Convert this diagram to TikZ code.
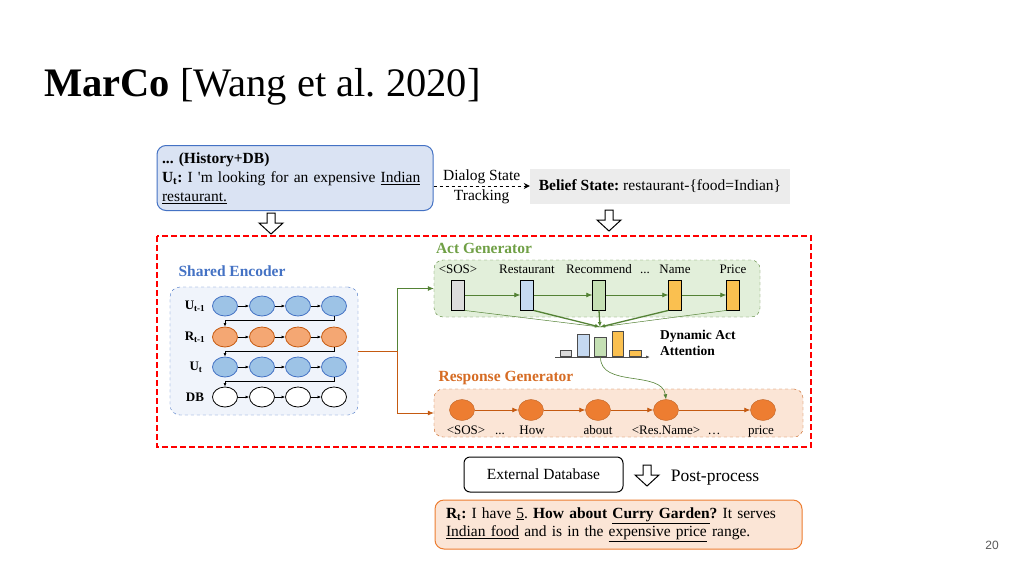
\documentclass[tikz,border=0pt]{standalone}
\usepackage{fontspec}
\setmainfont{Liberation Serif}
\newfontfamily\pagenumfont{Liberation Sans}
\usetikzlibrary{shapes.geometric,arrows.meta}
\frenchspacing

\definecolor{histfill}{RGB}{218,227,243}
\definecolor{bluedraw}{RGB}{68,114,196}
\definecolor{beliefgray}{RGB}{236,236,236}
\definecolor{encfill}{RGB}{240,244,251}
\definecolor{encblue}{RGB}{157,195,230}
\definecolor{encorange}{RGB}{244,167,115}
\definecolor{orangedraw}{RGB}{197,90,17}
\definecolor{actgreen}{RGB}{112,160,70}
\definecolor{actline}{RGB}{84,130,53}
\definecolor{actfill}{RGB}{226,239,218}
\definecolor{resfill}{RGB}{251,229,214}
\definecolor{resdot}{RGB}{237,125,49}
\definecolor{restitle}{RGB}{214,108,36}
\definecolor{rectgray}{RGB}{220,220,220}
\definecolor{rectblue}{RGB}{197,217,241}
\definecolor{rectgreen}{RGB}{197,224,180}
\definecolor{rectorange}{RGB}{250,192,80}

\tikzset{
  txt/.style={font=\fontsize{15.5}{19}\selectfont, inner sep=0pt},
  lbl/.style={font=\fontsize{13}{15}\selectfont, inner sep=0pt, anchor=base},
  rowlbl/.style={font=\bfseries\fontsize{13}{15}\selectfont, inner sep=0pt},
  secttl/.style={font=\bfseries\fontsize{15.5}{18}\selectfont, inner sep=0pt},
  histbox/.style={draw=bluedraw, fill=histfill, line width=1pt, rounded corners=9pt,
    text width=266pt, inner xsep=5pt, minimum height=65pt, align=left,
    font=\fontsize{15.5}{19}\selectfont},
  beliefbox/.style={fill=beliefgray, minimum width=260pt, minimum height=35pt,
    font=\fontsize{15.5}{19}\selectfont},
  dsarrow/.style={dashed, line width=1pt, -{Stealth[length=6pt,width=6pt]}},
  encbox/.style={draw=bluedraw, dashed, fill=encfill, rounded corners=10pt,
    minimum width=188pt, minimum height=128pt},
  encell/.style={ellipse, minimum width=25pt, minimum height=20pt, inner sep=0pt, line width=0.8pt},
  encb/.style={encell, draw=bluedraw, fill=encblue},
  enco/.style={encell, draw=orangedraw, fill=encorange},
  encw/.style={encell, draw=black, fill=white},
  encarrow/.style={line width=0.7pt, -{Latex[length=3.5pt,width=3pt]}},
  actbox/.style={draw=actline, dashed, fill=actfill, rounded corners=9pt,
    minimum width=326pt, minimum height=57pt},
  actrect/.style={draw=black, line width=0.9pt, minimum width=12.5pt, minimum height=30pt, inner sep=0pt},
  actarrow/.style={draw=actline, line width=0.8pt, -{Latex[length=6pt,width=5pt]}},
  attline/.style={draw=actline, line width=1.3pt, -{Latex[length=5pt,width=4pt]}},
  attthin/.style={draw=actline, line width=0.5pt},
  bar/.style={draw=black!70, line width=0.6pt, minimum width=11.5pt, inner sep=0pt, anchor=south},
  resbox/.style={draw=orangedraw, dashed, fill=resfill, rounded corners=9pt,
    minimum width=369pt, minimum height=48pt},
  resdotnode/.style={ellipse, fill=resdot, draw=resdot!80!black, line width=0.4pt,
    minimum width=25pt, minimum height=21pt, inner sep=0pt},
  resarrow/.style={draw=orangedraw, line width=0.8pt, -{Latex[length=6pt,width=5pt]}},
  dbbox/.style={draw=black, line width=1pt, rounded corners=6pt, fill=white,
    minimum width=159pt, minimum height=35pt, font=\fontsize{15.5}{19}\selectfont},
  outbox/.style={draw=resdot, line width=1pt, fill=resfill, rounded corners=9pt,
    text width=345pt, inner xsep=11pt, minimum height=49pt, align=left,
    font=\fontsize{15.5}{18.3}\selectfont},
  pics/hollowdown/.style={code={
    \draw[fill=white, line width=1pt, line join=miter]
      (-4,0) -- (4,0) -- (4,-10) -- (12,-10) -- (0,-21) -- (-12,-10) -- (-4,-10) -- cycle;}}
}

\begin{document}
\begin{tikzpicture}[x=1pt,y=1pt,yscale=-1]
\useasboundingbox[fill=white] (0,0) rectangle (1024,576);

% title and page number
\node[anchor=west, inner sep=0pt, font=\fontsize{40.5}{42}\selectfont] (title) at (44,87)
  {\textbf{MarCo} [Wang et al. 2020]};
\node[inner sep=0pt, font=\pagenumfont\fontsize{12}{14}\selectfont, text=black!65] (pagenum) at (992,545) {20};

% input and belief state
\node[histbox] (hist) at (295,178) {\textbf{... (History+DB)}\\
  \textbf{U\textsubscript{t}:} I \textquotesingle m looking for an expensive \underline{Indian}\\
  \underline{restaurant.}};
\node[beliefbox] (belief) at (660,186) {\textbf{Belief State:} restaurant-\{food=Indian\}};
\draw[dsarrow] (hist.east |- belief.west) -- (belief.west)
  node[midway, above=2pt, txt] {Dialog State}
  node[midway, below=3pt, txt] {Tracking};

\pic at (271,213) {hollowdown};
\pic at (609,210) {hollowdown};

% model frame
\draw[red, dashed, line width=1.6pt, dash pattern=on 6pt off 3pt] (157,236) rectangle (811,447);

% shared encoder
\node[secttl, text=bluedraw] (enctitle) at (232,271) {Shared Encoder};
\node[encbox] (enc) at (264,351) {};
\node[rowlbl] (l1) at (195,306) {U\textsubscript{t-1}};
\node[rowlbl] (l2) at (195,337) {R\textsubscript{t-1}};
\node[rowlbl] (l3) at (196,367) {U\textsubscript{t}};
\node[rowlbl] (l4) at (195,397) {DB};
\foreach \r/\y/\sty in {1/306/encb, 2/337/enco, 3/367/encb, 4/397/encw} {
  \foreach \c/\x in {1/225, 2/262, 3/298, 4/334}
    \node[\sty] (e\r\c) at (\x,\y) {};
  \foreach \c [evaluate=\c as \n using int(\c+1)] in {1,2,3}
    \draw[encarrow] (e\r\c) -- (e\r\n);
}
\foreach \r [evaluate=\r as \n using int(\r+1)] in {1,2,3}
  \draw[encarrow] (e\r4.south) -- ++(0,3.5) -| (e\n1.north);

% act generator
\node[secttl, text=actgreen] (acttitle) at (484,248) {Act Generator};
\node[actbox] (act) at (597,288.5) {};
\foreach \i/\x/\col/\txt in {1/458/rectgray/{<SOS>}, 2/527/rectblue/{Restaurant},
    3/599/rectgreen/{Recommend}, 4/675/rectorange/{Name}, 5/733/rectorange/{Price}} {
  \node[actrect, fill=\col] (a\i) at (\x,295) {};
  \node[lbl] (al\i) at (\x,273) {\txt};
}
\node[lbl] (adots) at (645,273) {...};
\foreach \i [evaluate=\i as \n using int(\i+1)] in {1,...,4}
  \draw[actarrow] (a\i) -- (a\n);

% dynamic act attention
\coordinate (att) at (600,327);
\draw[attthin] (a1.south east) -- (att);
\draw[attthin] (a5.south west) -- (att);
\draw[attline] (a2.south east) -- (att);
\draw[attline] (a3.south) -- (att);
\draw[attline] (a4.south west) -- (att);
\coordinate (axl) at (555,357);
\coordinate (axr) at (650,357);
\draw[line width=0.7pt, draw=black!70, -{Latex[length=4pt,width=3pt]}] (axl) -- (axr);
\node[bar, fill=rectgray, minimum height=6pt] (b1) at (566,357) {};
\node[bar, fill=rectblue, minimum height=22pt] (b2) at (583.5,357) {};
\node[bar, fill=rectgreen, minimum height=19pt] (b3) at (600.5,357) {};
\node[bar, fill=rectorange, minimum height=25pt] (b4) at (618,357) {};
\node[bar, fill=rectorange, minimum height=6pt] (b5) at (635.5,357) {};
\node[rowlbl, anchor=west, align=left, font=\bfseries\fontsize{13.5}{16.5}\selectfont] (dyn) at (660,343)
  {Dynamic Act\\Attention};

% response generator
\node[secttl, text=restitle] (restitle) at (506,378) {Response Generator};
\node[resbox] (res) at (618.5,413) {};
\foreach \i/\x in {1/462, 2/531, 3/598, 4/666, 5/763}
  \node[resdotnode] (r\i) at (\x,410) {};
\foreach \i [evaluate=\i as \n using int(\i+1)] in {1,...,4}
  \draw[resarrow] (r\i) -- (r\n);
\foreach \x/\txt [count=\i] in {466/{<SOS>}, 500/{...}, 532/{How}, 598/{about},
    666/{<Res.Name>}, 714/{\dots}, 761/{price}}
  \node[lbl] (rl\i) at (\x,434) {\txt};
\draw[draw=actline, line width=0.6pt, -{Latex[length=5pt,width=4pt]}]
  (b3.south) .. controls (600,388) and (662,370) .. (r4.north);

% encoder to generators
\coordinate (split) at (397,351);
\draw[draw=orangedraw, line width=0.7pt] (enc.east) -- (split);
\draw[draw=actline, line width=0.7pt, -{Latex[length=6pt,width=5pt]}] (split) |- (act.west);
\draw[draw=orangedraw, line width=0.7pt, -{Latex[length=6pt,width=5pt]}] (split) |- (res.west);

% post-processing
\node[dbbox] (extdb) at (543.5,474.5) {External Database};
\pic at (647,465) {hollowdown};
\node[inner sep=0pt, anchor=base, font=\fontsize{17.5}{20}\selectfont] (post) at (715,481) {Post-process};
\node[outbox] (out) at (618.5,524.5)
  {\textbf{R\textsubscript{t}:} I have \underline{5}. \textbf{How about \underline{Curry Garden}?} It serves\\
   \underline{Indian food} and is in the \underline{expensive price} range.};

\end{tikzpicture}
\end{document}
